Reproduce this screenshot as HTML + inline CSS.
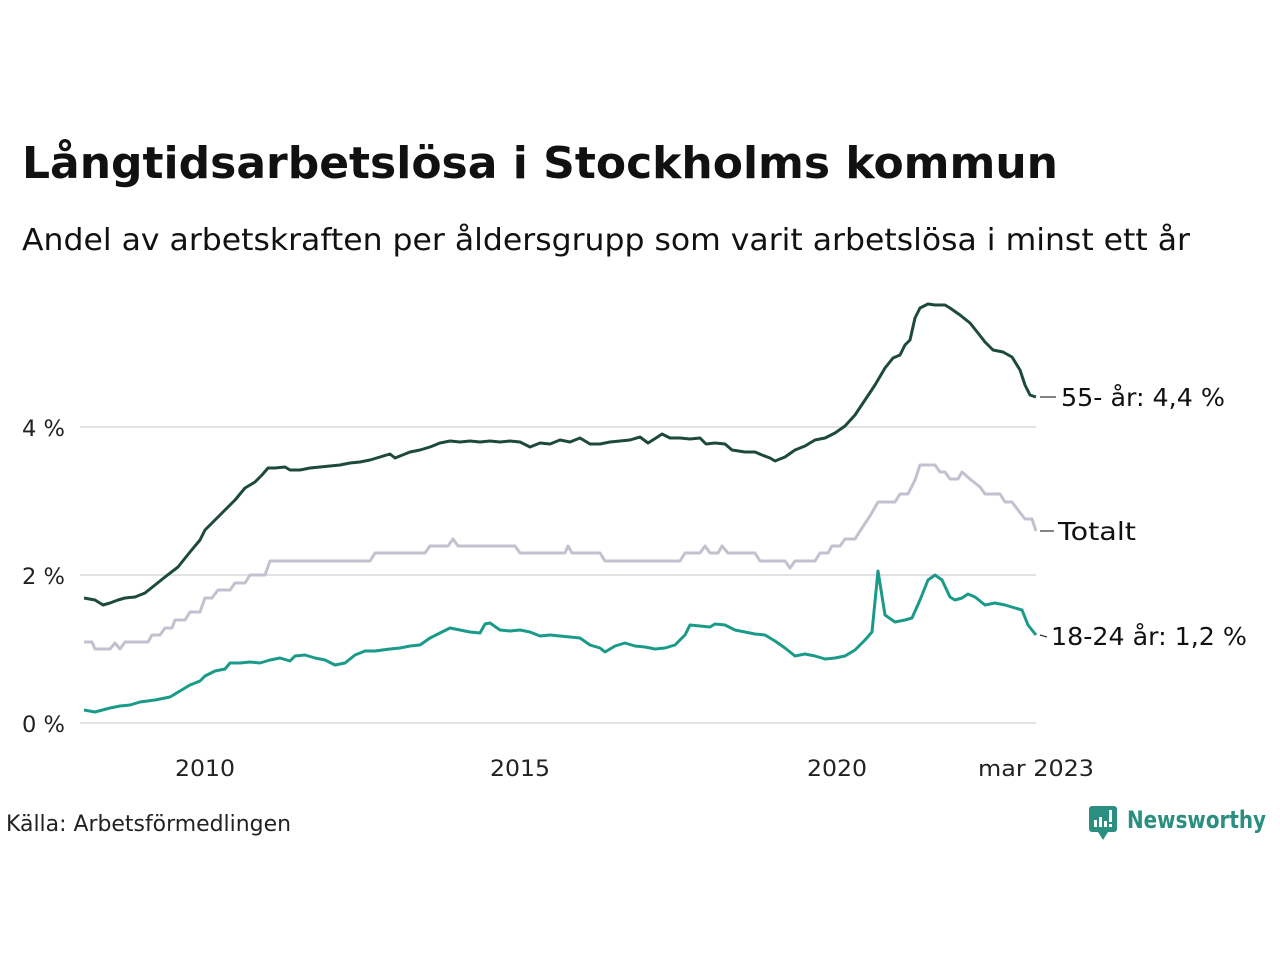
<!DOCTYPE html>
<html><head><meta charset="utf-8"><style>
html,body{margin:0;padding:0;background:#fff;}
svg{display:block;font-family:"DejaVu Sans","Liberation Sans",sans-serif;}
</style></head><body>
<svg width="1280" height="960" viewBox="0 0 1280 960" xmlns="http://www.w3.org/2000/svg">
<rect width="1280" height="960" fill="#fff"/>
<text x="22" y="178" font-size="44" font-weight="bold" fill="#111" textLength="1036" lengthAdjust="spacingAndGlyphs">Långtidsarbetslösa i Stockholms kommun</text>
<text x="22" y="250" font-size="30" fill="#111" textLength="1168" lengthAdjust="spacingAndGlyphs">Andel av arbetskraften per åldersgrupp som varit arbetslösa i minst ett år</text>
<g stroke="#e2e2e6" stroke-width="2">
<line x1="80" y1="427" x2="1036" y2="427"/><line x1="80" y1="575" x2="1036" y2="575"/><line x1="80" y1="723" x2="1036" y2="723"/>
</g>
<g font-size="22" fill="#222">
<text x="22" y="436" textLength="43" lengthAdjust="spacingAndGlyphs">4 %</text><text x="22" y="584" textLength="43" lengthAdjust="spacingAndGlyphs">2 %</text><text x="22" y="732" textLength="43" lengthAdjust="spacingAndGlyphs">0 %</text>
<text x="175" y="776" textLength="60" lengthAdjust="spacingAndGlyphs">2010</text>
<text x="490" y="776" textLength="60" lengthAdjust="spacingAndGlyphs">2015</text>
<text x="807" y="776" textLength="60" lengthAdjust="spacingAndGlyphs">2020</text>
<text x="978" y="776" textLength="116" lengthAdjust="spacingAndGlyphs">mar 2023</text>
<text x="6" y="831" textLength="285" lengthAdjust="spacingAndGlyphs">Källa: Arbetsförmedlingen</text>
</g>
<g fill="none" stroke-width="3" stroke-linejoin="round">
<polyline stroke="#c3c1cf" points="84,642 92,642 95,649 110,649 115,643 120,649 125,642 148,642 152,635 160,635 165,628 172,628 175,620 185,620 190,612 200,612 205,598 212,598 218,590 230,590 235,583 245,583 250,575 265,575 270,561 370,561 375,553 425,553 430,546 448,546 453,539 458,546 515,546 520,553 565,553 568,546 572,553 600,553 605,561 680,561 685,553 700,553 705,546 710,553 718,553 722,546 728,553 755,553 760,561 785,561 790,568 795,561 815,561 820,553 828,553 832,546 840,546 845,539 855,539 860,531 870,516 878,502 895,502 900,494 908,494 915,480 920,465 935,465 940,472 945,472 950,479 958,479 962,472 970,479 980,487 985,494 1000,494 1005,502 1012,502 1018,510 1025,519 1032,519 1036,531"/>
<polyline stroke="#1a9a88" points="84,710 95,712 110,708 120,706 130,705 140,702 155,700 170,697 180,691 190,685 200,681 205,676 215,671 225,669 230,663 240,663 250,662 260,663 270,660 280,658 290,661 295,656 305,655 315,658 325,660 335,665 345,663 355,655 365,651 375,651 390,649 400,648 410,646 420,645 430,638 440,633 450,628 460,630 470,632 480,633 485,624 490,623 500,630 510,631 520,630 530,632 540,636 550,635 560,636 570,637 580,638 590,645 600,648 605,652 615,646 625,643 635,646 645,647 655,649 665,648 675,645 685,635 690,625 700,626 710,627 715,624 725,625 735,630 745,632 755,634 765,635 775,641 785,648 795,656 805,654 815,656 825,659 835,658 845,656 855,650 865,640 872,632 878,571 885,615 895,622 905,620 912,618 920,600 928,580 935,575 942,580 950,597 955,600 962,598 968,594 975,597 985,605 995,603 1005,605 1015,608 1022,610 1028,625 1036,635"/>
<polyline stroke="#1d4a3c" points="84,598 95,600 103,605 110,603 118,600 125,598 135,597 145,593 155,585 165,577 178,567 190,552 200,540 205,530 215,520 225,510 235,500 245,488 255,482 262,475 268,468 275,468 285,467 290,470 300,470 310,468 320,467 330,466 340,465 350,463 360,462 370,460 380,457 390,454 395,458 410,452 420,450 430,447 440,443 450,441 460,442 470,441 480,442 490,441 500,442 510,441 520,442 530,447 540,443 550,444 560,440 570,442 580,438 590,444 600,444 610,442 620,441 630,440 640,437 648,443 656,438 662,434 670,438 680,438 690,439 700,438 706,444 715,443 725,444 732,450 745,452 755,452 762,455 770,458 775,461 785,457 795,450 805,446 815,440 825,438 835,433 845,426 855,415 865,400 875,385 885,368 893,358 900,355 905,345 910,340 915,318 920,308 928,304 935,305 945,305 950,308 960,315 970,323 978,333 985,342 993,350 1003,352 1012,357 1020,370 1025,385 1030,395 1036,397"/>
</g>
<g stroke="#333" stroke-width="1.2">
<line x1="1040" y1="397" x2="1056" y2="397"/><line x1="1040" y1="531" x2="1054" y2="531"/><line x1="1040" y1="635" x2="1047" y2="637"/>
</g>
<g font-size="25" fill="#111">
<text x="1061" y="406" textLength="164" lengthAdjust="spacingAndGlyphs">55- år: 4,4 %</text>
<text x="1058" y="540" textLength="78" lengthAdjust="spacingAndGlyphs">Totalt</text>
<text x="1051" y="645" textLength="196" lengthAdjust="spacingAndGlyphs">18-24 år: 1,2 %</text>
</g>
<g>
<rect x="1089" y="806" width="28" height="26" rx="3" fill="#2a8f80"/>
<polygon points="1098,832 1108,832 1103,840" fill="#2a8f80"/>
<rect x="1094" y="820" width="3" height="7" fill="#fff"/><rect x="1099" y="817" width="3" height="10" fill="#fff"/><rect x="1104" y="821" width="3" height="6" fill="#fff"/><rect x="1109" y="810" width="3" height="12" fill="#fff"/><rect x="1109" y="824" width="3" height="3" fill="#fff"/>
<text x="1127" y="828" font-size="24" font-weight="bold" fill="#2a8f80" textLength="139" lengthAdjust="spacingAndGlyphs">Newsworthy</text>
</g>
</svg>
</body></html>
